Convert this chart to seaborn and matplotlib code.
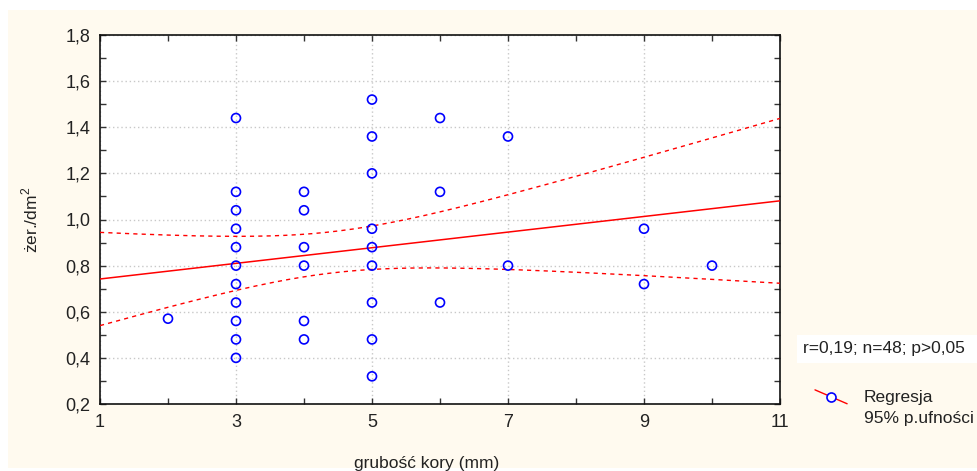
import numpy as np
import pandas as pd
import matplotlib
matplotlib.use("Agg")
import matplotlib.pyplot as plt
import seaborn as sns
from matplotlib.legend_handler import HandlerBase
from matplotlib.lines import Line2D
from matplotlib.patches import Rectangle

# ---- data (overlapping duplicates estimated to reach n=48) ----
thickness = [2,
             3, 3, 3, 3, 3, 3, 3, 3, 3, 3, 3,
             4, 4, 4, 4, 4, 4,
             5, 5, 5, 5, 5, 5, 5, 5, 5,
             6, 6, 6,
             7, 7,
             9, 9,
             10,
             # hidden (overlapping) duplicates
             3, 3, 3, 3, 3,
             4, 4, 4, 4, 4, 4,
             5, 5]
feeding = [0.57,
           1.44, 1.12, 1.04, 0.96, 0.88, 0.80, 0.72, 0.64, 0.56, 0.48, 0.40,
           1.12, 1.04, 0.88, 0.80, 0.56, 0.48,
           1.52, 1.36, 1.20, 0.96, 0.88, 0.80, 0.64, 0.48, 0.32,
           1.44, 1.12, 0.64,
           1.36, 0.80,
           0.96, 0.72,
           0.80,
           0.40, 0.56, 0.80, 0.88, 1.12,
           0.48, 0.56, 0.80, 0.80, 0.88, 1.04,
           1.52, 0.88]

x_ticks = [1, 3, 5, 7, 9, 11]
x_tick_labels = ["1", "3", "5", "7", "9", "11"]
y_ticks = [0.2, 0.4, 0.6, 0.8, 1.0, 1.2, 1.4, 1.6, 1.8]
y_tick_labels = ["0,2", "0,4", "0,6", "0,8", "1,0", "1,2", "1,4", "1,6", "1,8"]
stats_text = "r=0,19; n=48; p>0,05"
legend_labels = "Regresja\n95% p.ufności"
x_label = "grubość kory (mm)"
y_label = "żer./dm$^2$"

df = pd.DataFrame({"x": thickness, "y": feeding})

sns.set_style("white")
plt.rcParams["font.family"] = ["Liberation Sans", "DejaVu Sans"]
plt.rcParams["mathtext.fontset"] = "custom"
plt.rcParams["mathtext.rm"] = "Liberation Sans"

W, H = 978, 471
fig = plt.figure(figsize=(W / 100, H / 100), dpi=100, facecolor="white")
# cream panel
fig.patches.append(Rectangle((8 / W, 3 / H), (W - 8) / W, (H - 13) / H,
                             transform=fig.transFigure, facecolor="#fffaef",
                             edgecolor="none", zorder=-10))

ax = fig.add_axes([100 / W, 1 - 404 / H, 680 / W, 369 / H])
ax.set_zorder(2)
ax.set_facecolor("white")

# regression + 95% CI computed from the data
x = np.asarray(thickness, float)
y = np.asarray(feeding, float)
n = len(x)
b, a = np.polyfit(x, y, 1)
resid = y - (a + b * x)
s = np.sqrt(np.sum(resid ** 2) / (n - 2))
sxx = np.sum((x - x.mean()) ** 2)
t = 2.013
xs = np.linspace(1, 11, 200)
fit = a + b * xs
hw = t * s * np.sqrt(1 / n + (xs - x.mean()) ** 2 / sxx)
ax.plot(xs, fit, color="#ff0000", lw=1.1, zorder=3)
ax.plot(xs, fit + hw, color="#ff0000", lw=1.0, ls=(0, (3, 3)), zorder=3)
ax.plot(xs, fit - hw, color="#ff0000", lw=1.0, ls=(0, (3, 3)), zorder=3)

sns.scatterplot(data=df.drop_duplicates(), x="x", y="y", ax=ax, marker="o",
                s=42, facecolor="none", edgecolor="#0000ff", linewidth=1.2,
                zorder=4)

ax.set_xlim(1, 11)
ax.set_ylim(0.2, 1.8)
ax.set_xticks(x_ticks)
ax.set_xticklabels(x_tick_labels)
ax.set_yticks(y_ticks)
ax.set_yticklabels(y_tick_labels)
ax.set_xticks([2, 4, 6, 8, 10], minor=True)
ax.set_yticks([0.3, 0.5, 0.7, 0.9, 1.1, 1.3, 1.5, 1.7], minor=True)
ax.tick_params(which="both", direction="in", top=True, right=True, bottom=True,
               left=True, length=4, width=1, color="#333333",
               labelsize=13, pad=7)
ax.tick_params(which="both", labelcolor="#222222")
ax.grid(True, which="major", color="#c8c8c8", ls=(0, (1, 2)), lw=1)
for sp in ax.spines.values():
    sp.set_visible(True)
    sp.set_color("#111111")
    sp.set_linewidth(1.2)

ax.set_xlabel(x_label, fontsize=12.5, color="#222222")
ax.xaxis.set_label_coords(0.48, -0.14)
ax.set_ylabel(y_label, fontsize=12.5, color="#222222")
ax.yaxis.set_label_coords(-0.088, 0.5)

# stats box
fig.text(803 / W, 1 - 349 / H, stats_text + "   ", fontsize=12.5,
         color="#222222", va="center", ha="left",
         bbox=dict(facecolor="white", edgecolor="none", pad=4.5))


class DiagHandler(HandlerBase):
    def create_artists(self, legend, orig_handle, xdescent, ydescent, width,
                       height, fontsize, trans):
        x0, x1 = -xdescent, -xdescent + width
        yc = -ydescent + height / 2 + 8
        y0, y1 = yc + 5, yc - 5
        line = Line2D([x0, x1], [y0, y1], color="#ff0000", lw=1.0,
                      transform=trans)
        mk = Line2D([(x0 + x1) / 2], [yc], marker="o", ms=6.5,
                    mfc="white", mec="#0000ff", mew=1.2, ls="none",
                    transform=trans)
        return [line, mk]


handle = Line2D([], [])
leg = fig.legend([handle], [legend_labels], handler_map={Line2D: DiagHandler()},
                 loc="upper left", bbox_to_anchor=(815 / W, 1 - 390 / H),
                 frameon=False, fontsize=12.5, handlelength=1.85,
                 handletextpad=0.95, borderaxespad=0, borderpad=0)
for txt in leg.get_texts():
    txt.set_color("#222222")
    txt.set_linespacing(1.5)

fig.savefig("out.png", dpi=100, facecolor="white")
